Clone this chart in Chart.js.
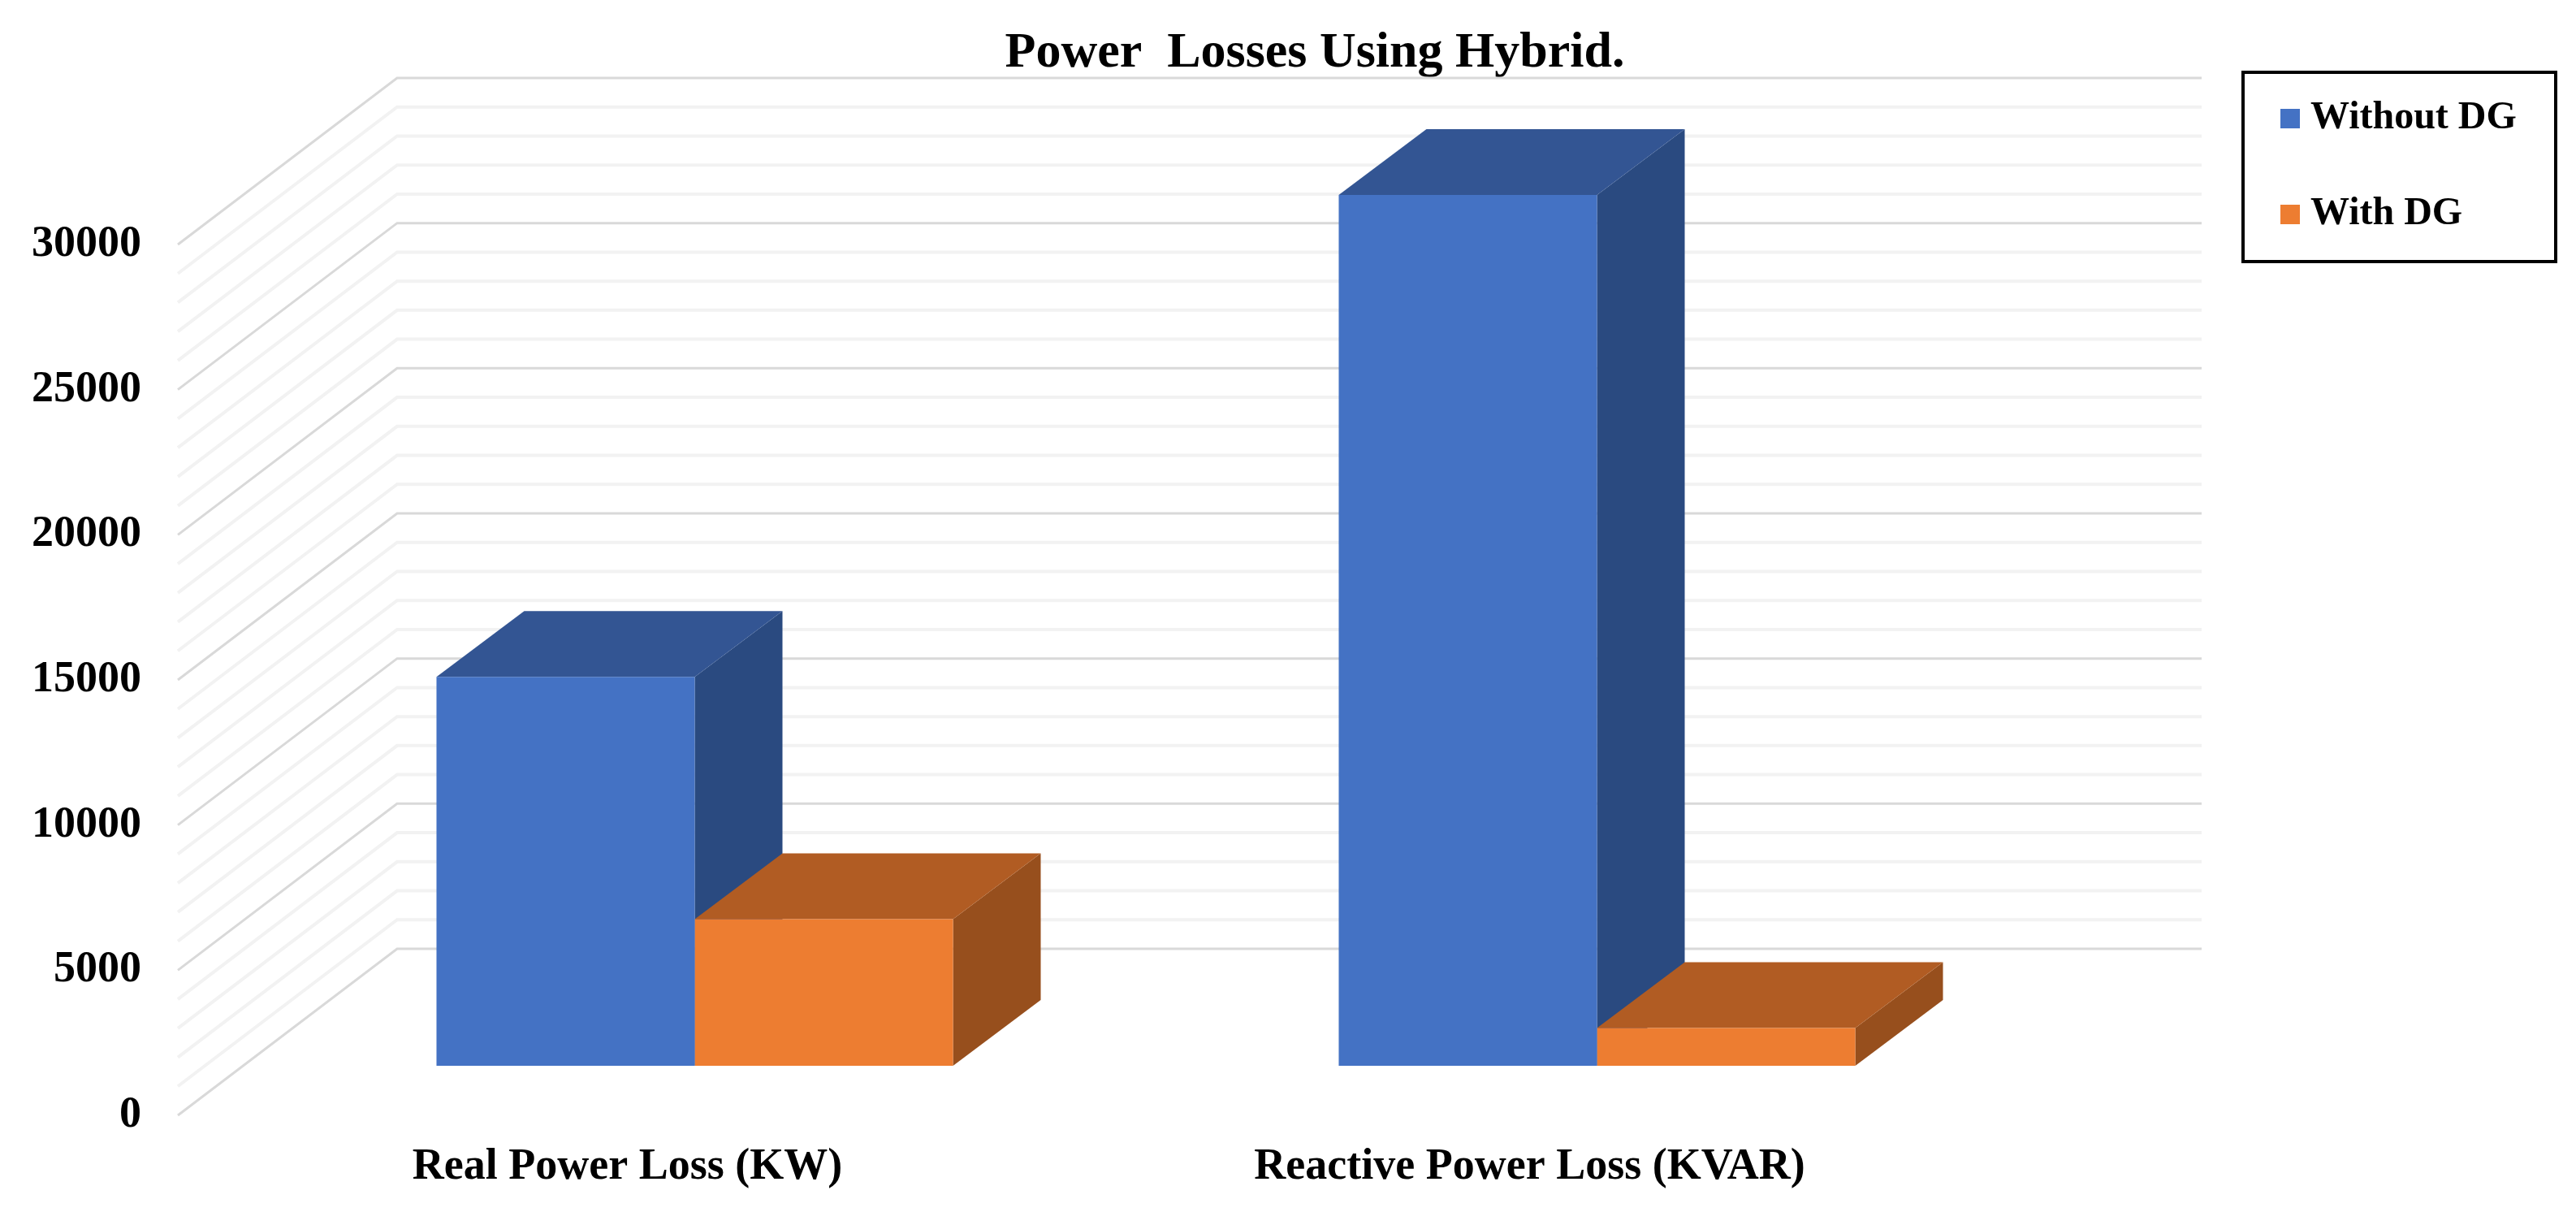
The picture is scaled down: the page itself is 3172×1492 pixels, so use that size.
<!DOCTYPE html>
<html>
<head>
<meta charset="utf-8">
<title>Power Losses Using Hybrid.</title>
<style>
html,body{margin:0;padding:0;background:#fff;}
canvas{display:block;}
</style>
<script src="https://cdn.jsdelivr.net/npm/chart.js@4/dist/chart.umd.min.js"></script>
</head>
<body>
<canvas id="c" width="3172" height="1492"></canvas>
<script>
const chartTitle = 'Power  Losses Using Hybrid.';
const categories = ['Real Power Loss (KW)', 'Reactive Power Loss (KVAR)'];
const seriesNames = ['Without DG', 'With DG'];
const withoutDG = [13400, 30000];
const withDG = [5050, 1300];
const yMin = 0;
const yMax = 30000;
const majorStep = 5000;
const minorStep = 1000;

const FONT = '"Liberation Serif", "Times New Roman", serif';
const C = {
  blue:   {front:'#4472C4', top:'#335593', side:'#2A4A80'},
  orange: {front:'#ED7D31', top:'#B15C23', side:'#974F1D'}
};
const WALL = {dx:270, dy:205, frontGap:81, rightExt:189};
const BAR  = {lift:61, dx:108, dy:81};

const wallPlugin = {
  id:'wall3d',
  beforeLayout(chart){
    const l = chart.legend;
    if (!l._fitPatched) {
      const orig = l.fit;
      l.fit = function(){ orig.call(this); this.width = 650; };
      l._fitPatched = true;
    }
  },
  afterLayout(chart){
    const l = chart.legend;
    l.left = 2749; l.right = 3172; l.top = 52; l.bottom = 400;
    l.width = l.right - l.left; l.height = l.bottom - l.top;
    l.adjustHitBoxes();
    const t = chart.titleBlock;
    t.left = 66; t.right = 3172; t.width = t.right - t.left;
  },
  beforeDatasetsDraw(chart){
    const {ctx, chartArea:a, scales:{y}} = chart;
    const fx = a.left - WALL.frontGap, bx = fx + WALL.dx, rx = a.right + WALL.rightExt;
    ctx.save();
    ctx.lineCap = 'butt';
    const lines = [];
    for (let v = yMin; v <= yMax; v += minorStep) lines.push(v);
    [false, true].forEach(major => {
      lines.forEach(v => {
        if ((v % majorStep === 0) !== major) return;
        const py = y.getPixelForValue(v);
        ctx.strokeStyle = major ? '#D9D9D9' : '#F2F2F2';
        ctx.lineWidth = major ? 3 : 4;
        ctx.beginPath();
        ctx.moveTo(fx, py);
        ctx.lineTo(bx, py - WALL.dy);
        ctx.lineTo(rx, py - WALL.dy);
        ctx.stroke();
      });
    });
    const shades = [C.blue, C.orange];
    categories.forEach((_, i) => {
      [0, 1].forEach(ds => {
        const el = chart.getDatasetMeta(ds).data[i];
        const s = shades[ds];
        const x0 = el.x - el.width / 2, x1 = el.x + el.width / 2;
        const t = el.y - BAR.lift, b = el.base - BAR.lift;
        ctx.fillStyle = s.side;
        ctx.beginPath();
        ctx.moveTo(x1, t); ctx.lineTo(x1 + BAR.dx, t - BAR.dy);
        ctx.lineTo(x1 + BAR.dx, b - BAR.dy); ctx.lineTo(x1, b);
        ctx.closePath(); ctx.fill();
        ctx.fillStyle = s.top;
        ctx.beginPath();
        ctx.moveTo(x0, t); ctx.lineTo(x0 + BAR.dx, t - BAR.dy);
        ctx.lineTo(x1 + BAR.dx, t - BAR.dy); ctx.lineTo(x1, t);
        ctx.closePath(); ctx.fill();
      });
    });
    ctx.restore();
  },
  beforeDatasetDraw(chart){
    chart.ctx.save();
    chart.ctx.translate(0, -BAR.lift);
  },
  afterDatasetDraw(chart){
    chart.ctx.restore();
  },
  afterDraw(chart){
    const ctx = chart.ctx;
    ctx.save();
    ctx.strokeStyle = '#000';
    ctx.lineWidth = 4;
    ctx.strokeRect(2762, 89, 385, 233);
    ctx.restore();
  }
};

new Chart(document.getElementById('c').getContext('2d'), {
  type:'bar',
  data:{
    labels:categories,
    datasets:[
      {label:seriesNames[0], data:withoutDG, backgroundColor:C.blue.front, borderWidth:0, clip:false,
       categoryPercentage:0.5725, barPercentage:1},
      {label:seriesNames[1], data:withDG, backgroundColor:C.orange.front, borderWidth:0, clip:false,
       categoryPercentage:0.5725, barPercentage:1}
    ]
  },
  plugins:[wallPlugin],
  options:{
    responsive:false,
    animation:false,
    layout:{padding:{left:0, right:0, top:0, bottom:0}},
    plugins:{
      tooltip:{enabled:false},
      title:{
        display:true, text:chartTitle, color:'#000',
        font:{family:FONT, weight:'bold', size:62, lineHeight:1},
        padding:{top:35, bottom:204}
      },
      legend:{
        display:true, position:'right', align:'start',
        labels:{
          color:'#000', font:{family:FONT, weight:'bold', size:48},
          boxWidth:2, boxHeight:24, usePointStyle:true, pointStyle:'rect', padding:70
        }
      }
    },
    scales:{
      x:{
        type:'category',
        grid:{display:false, drawTicks:false},
        border:{display:false},
        afterFit(s){ s.height = 119; },
        ticks:{
          color:'#000', font:{family:FONT, weight:'bold', size:54},
          padding:32, labelOffset:-83, maxRotation:0, minRotation:0, autoSkip:false
        }
      },
      y:{
        type:'linear', min:yMin, max:yMax,
        grid:{display:false, drawTicks:false},
        border:{display:false},
        afterFit(s){ s.width = 300; s.paddingTop = 0; s.paddingBottom = 0; },
        ticks:{
          stepSize:majorStep, color:'#000', padding:126,
          font:{family:FONT, weight:'bold', size:54},
          callback:v => String(v)
        }
      }
    }
  }
});
</script>
</body>
</html>
